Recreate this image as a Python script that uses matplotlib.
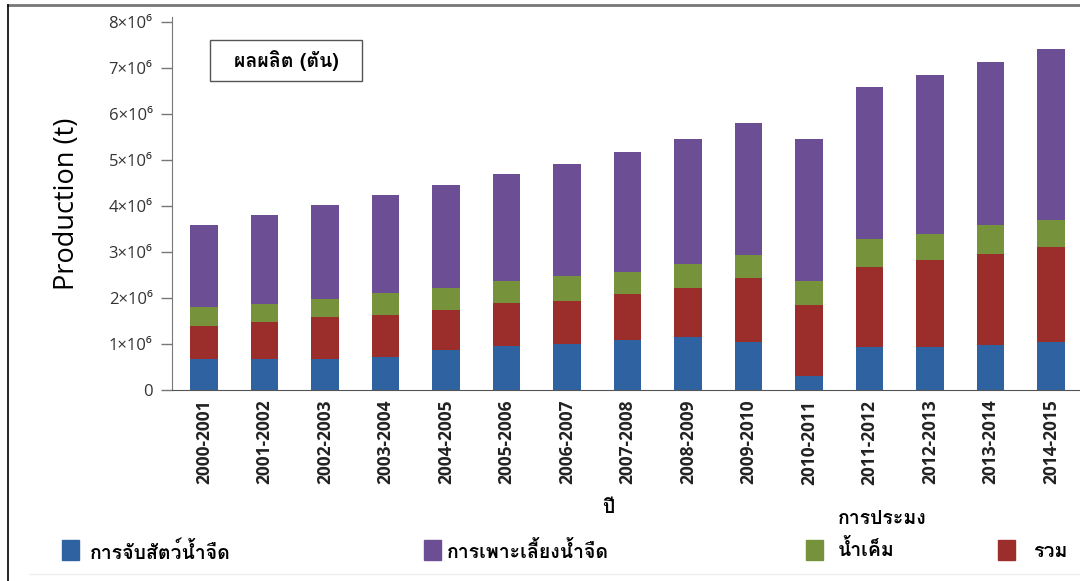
import numpy as np
import matplotlib
matplotlib.use('Agg')
import matplotlib.pyplot as plt
from matplotlib import font_manager, ft2font
from matplotlib.patches import Rectangle
from matplotlib.lines import Line2D

# ==================== 数据 ====================
years = ['2000-2001', '2001-2002', '2002-2003', '2003-2004', '2004-2005',
         '2005-2006', '2006-2007', '2007-2008', '2008-2009', '2009-2010',
         '2010-2011', '2011-2012', '2012-2013', '2013-2014', '2014-2015']
# stacked tops (million t)
blue_top = [0.67, 0.67, 0.67, 0.72, 0.87, 0.96, 1.00, 1.09, 1.15, 1.04, 0.30, 0.94, 0.94, 0.98, 1.04]
red_top = [1.39, 1.48, 1.59, 1.63, 1.74, 1.89, 1.93, 2.09, 2.22, 2.43, 1.85, 2.68, 2.82, 2.95, 3.10]
green_top = [1.80, 1.87, 1.98, 2.11, 2.22, 2.37, 2.48, 2.57, 2.74, 2.94, 2.37, 3.27, 3.39, 3.58, 3.69]
total = [3.59, 3.80, 4.02, 4.24, 4.46, 4.70, 4.91, 5.17, 5.45, 5.80, 5.45, 6.58, 6.85, 7.13, 7.40]

labels = ['การจับสัตว์น้ำจืด', 'การเพาะเลี้ยงน้ำจืด', 'การประมง\nน้ำเค็ม', 'รวม']
yticks = [0, 1, 2, 3, 4, 5, 6, 7, 8]

c_blue, c_red, c_green, c_purple = '#2F62A0', '#9B2D2B', '#76933C', '#6C4E95'


def find_thai_font():
    """找一个含泰文字形的字体"""
    for f in font_manager.fontManager.ttflist:
        try:
            if ord('ก') in ft2font.FT2Font(f.fname).get_charmap():
                return f.name
        except Exception:
            pass
    return 'DejaVu Sans'


thai = find_thai_font()
plt.rcParams['font.family'] = ['Open Sans', 'DejaVu Sans']

blue = np.array(blue_top) * 1e6
red = (np.array(red_top) - np.array(blue_top)) * 1e6
green = (np.array(green_top) - np.array(red_top)) * 1e6
purple = (np.array(total) - np.array(green_top)) * 1e6

fig = plt.figure(figsize=(10.8, 5.81), dpi=100)
ax = fig.add_axes([172 / 1080, 1 - 390 / 581, 1 - 172 / 1080, (390 - 17) / 581])

x = np.arange(len(years))
w = 0.46
ax.bar(x, blue, w, color=c_blue)
ax.bar(x, red, w, bottom=blue, color=c_red)
ax.bar(x, green, w, bottom=blue + red, color=c_green)
ax.bar(x, purple, w, bottom=blue + red + green, color=c_purple)

ax.set_xlim(-0.53, 14.48)
ax.set_ylim(0, 8.1e6)
ax.set_yticks([v * 1e6 for v in yticks])
ax.set_yticklabels(['0'] + [f'{v}×10⁶' for v in yticks[1:]], fontsize=12, color='#333333')
ax.set_xticks(x)
ax.set_xticklabels(years, rotation=90, fontsize=12.5, fontweight='bold', color='#222222')
ax.tick_params(axis='x', length=0, pad=7)
ax.tick_params(axis='y', length=8, width=1, color='#777777', pad=6)
for s in ['top', 'right']:
    ax.spines[s].set_visible(False)
ax.spines['left'].set_color('#777777')
ax.spines['bottom'].set_color('#555555')
ax.set_ylabel('Production (t)', fontsize=19.5, labelpad=20)

# 标题框
fig.patches.append(Rectangle((210 / 1080, 1 - 81 / 581), 152 / 1080, 41 / 581,
                             transform=fig.transFigure, fc='white', ec='#555555', lw=1))
fig.text(286 / 1080, 1 - 61 / 581, 'ผลผลิต (ตัน)', family=[thai, 'DejaVu Sans'],
         fontsize=14, fontweight='bold', ha='center', va='center')

fig.text(608 / 1080, 1 - 508 / 581, 'ปี', family=[thai, 'DejaVu Sans'], fontsize=14,
         fontweight='bold', ha='center', va='center')

# 图例
leg = [(62, c_blue, 90, labels[0]), (424, c_purple, 447, labels[1]),
       (806, c_green, 838, labels[2]), (998, c_red, 1033, labels[3])]
for px, col, tx, lab in leg:
    fig.patches.append(Rectangle((px / 1080, 1 - 560 / 581), 17 / 1080, 20 / 581,
                                 transform=fig.transFigure, color=col))
    ty = 1 - 535 / 581 if '\n' in lab else 1 - 552 / 581
    fig.text(tx / 1080, ty, lab, family=[thai, 'DejaVu Sans'], fontsize=14,
             fontweight='bold', ha='left', va='center', linespacing=1.6)

# 外框
fig.add_artist(Line2D([8 / 1080, 1], [1 - 5 / 581] * 2, transform=fig.transFigure, color='#777777', lw=2))
fig.add_artist(Line2D([8 / 1080] * 2, [0, 1 - 5 / 581], transform=fig.transFigure, color='black', lw=1.2))
fig.add_artist(Line2D([30 / 1080, 1], [1 - 574 / 581] * 2, transform=fig.transFigure, color='#eeeeee', lw=1))

fig.savefig('out.png', dpi=100)
